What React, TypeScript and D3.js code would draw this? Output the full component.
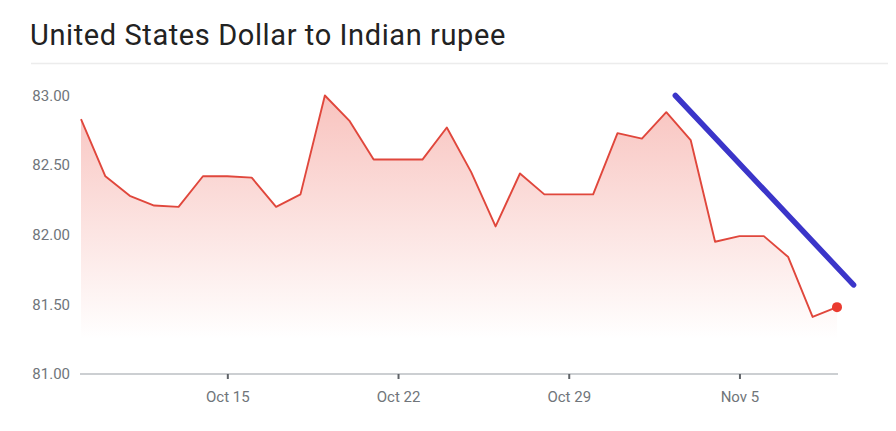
import React, { useEffect, useRef } from 'react';
import * as d3 from 'd3';

// daily rate, Oct 9 .. Nov 9
const rates = [
  82.83, 82.42, 82.28, 82.21, 82.2, 82.42, 82.42, 82.41, 82.2, 82.29,
  83.0, 82.82, 82.54, 82.54, 82.54, 82.77, 82.45, 82.06, 82.44, 82.29,
  82.29, 82.29, 82.73, 82.69, 82.88, 82.68, 81.95, 81.99, 81.99, 81.84,
  81.41, 81.48,
];
const xTicks = [6, 13, 20, 27];
const xTickLabels = ['Oct 15', 'Oct 22', 'Oct 29', 'Nov 5'];
const yTicks = [81, 81.5, 82, 82.5, 83];
// hand-drawn downward trend marker (day index, rate)
const trendLine: [number, number][] = [
  [24.37, 83.0],
  [31.68, 81.64],
];

const W = 896;
const H = 431;

const App: React.FC = () => {
  const svgRef = useRef<SVGSVGElement>(null);

  useEffect(() => {
    if (!svgRef.current) return;
    const svg = d3.select(svgRef.current);
    svg.selectAll('*').remove();

    const x = d3.scaleLinear().domain([0, rates.length - 1]).range([81, 837]);
    const y = d3.scaleLinear().domain([81, 83]).range([374, 95.5]);

    // title + divider
    svg.append('text')
      .attr('x', 30)
      .attr('y', 45)
      .attr('font-family', 'Roboto, Arial, sans-serif')
      .attr('font-size', 29)
      .attr('letter-spacing', 0.6)
      .attr('fill', '#222')
      .text('United States Dollar to Indian rupee');

    svg.append('line')
      .attr('x1', 31).attr('x2', 888)
      .attr('y1', 63.5).attr('y2', 63.5)
      .attr('stroke', '#ececec')
      .attr('stroke-width', 1.5);

    const defs = svg.append('defs');
    const grad = defs.append('linearGradient')
      .attr('id', 'areaFill')
      .attr('gradientUnits', 'userSpaceOnUse')
      .attr('x1', 0).attr('x2', 0)
      .attr('y1', y(83)).attr('y2', y(81.25));
    grad.append('stop').attr('offset', 0).attr('stop-color', '#ea4335').attr('stop-opacity', 0.32);
    grad.append('stop').attr('offset', 1).attr('stop-color', '#ea4335').attr('stop-opacity', 0);

    const idx = rates.map((_, i) => i);

    const area = d3.area<number>()
      .x(i => x(i))
      .y0(y(81))
      .y1(i => y(rates[i]));

    svg.append('path')
      .attr('d', area(idx) || '')
      .attr('fill', 'url(#areaFill)');

    // y labels
    svg.append('g')
      .selectAll('text')
      .data(yTicks)
      .enter()
      .append('text')
      .attr('x', 70)
      .attr('y', d => y(d))
      .attr('dy', '0.35em')
      .attr('text-anchor', 'end')
      .attr('font-family', 'Roboto, Arial, sans-serif')
      .attr('font-size', 15)
      .attr('fill', '#70757a')
      .text(d => d.toFixed(2));

    // x axis
    const xAxis = d3.axisBottom(x)
      .tickValues(xTicks)
      .tickSize(5)
      .tickPadding(12)
      .tickFormat((_, i) => xTickLabels[i]);

    const gx = svg.append('g')
      .attr('transform', `translate(0,${y(81)})`)
      .call(xAxis);
    gx.select('.domain')
      .attr('d', `M80,0H838`)
      .attr('stroke', '#9aa0a6')
      .attr('stroke-width', 1.2);
    gx.selectAll('.tick line').attr('stroke', '#5f6368').attr('stroke-width', 2);
    gx.selectAll('.tick text')
      .attr('font-family', 'Roboto, Arial, sans-serif')
      .attr('font-size', 15)
      .attr('fill', '#70757a');

    const line = d3.line<number>()
      .x(i => x(i))
      .y(i => y(rates[i]));

    svg.append('path')
      .attr('d', line(idx) || '')
      .attr('fill', 'none')
      .attr('stroke', '#e0473c')
      .attr('stroke-width', 1.9)
      .attr('stroke-linejoin', 'round');

    const last = rates.length - 1;
    svg.append('circle')
      .attr('cx', x(last))
      .attr('cy', y(rates[last]))
      .attr('r', 5)
      .attr('fill', '#ea3b30');

    const trend = d3.line<[number, number]>()
      .x(d => x(d[0]))
      .y(d => y(d[1]));

    svg.append('path')
      .attr('d', trend(trendLine) || '')
      .attr('fill', 'none')
      .attr('stroke', '#3b35c9')
      .attr('stroke-width', 5.5)
      .attr('stroke-linecap', 'round');
  }, []);

  return (
    <div style={{ position: 'fixed', left: 0, top: 0, background: '#fff' }}>
      <svg ref={svgRef} width={W} height={H} style={{ display: 'block' }} />
    </div>
  );
};

export default App;
